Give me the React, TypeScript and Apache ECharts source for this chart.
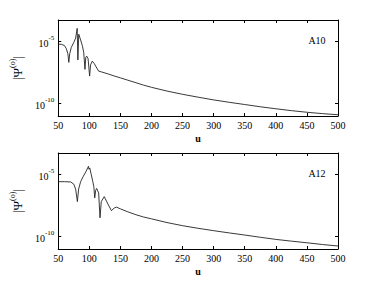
import React, { useEffect, useRef } from "react";
import * as echarts from "echarts";

// u values and log10 |Psi|
const U_A10 = [50, 55, 60, 63, 65.5, 67, 68.5, 71, 75, 78, 80.5, 81.6, 83, 86, 89, 91, 93, 94.3, 95.8, 98, 100.5, 102, 104.8, 108, 112, 115, 120, 131, 140, 150, 162, 175, 187, 200, 225, 250, 275, 300, 325, 350, 375, 400, 425, 450, 475, 500];
const LOG_A10 = [-5.24, -5.25, -5.35, -5.6, -6.0, -6.7, -6.0, -5.5, -5.1, -4.75, -3.97, -6.5, -4.44, -4.9, -5.4, -5.9, -7.26, -6.3, -6.2, -6.4, -7.8, -6.9, -6.6, -6.8, -7.15, -7.4, -7.47, -7.64, -7.79, -7.94, -8.13, -8.33, -8.52, -8.7, -9.0, -9.26, -9.49, -9.71, -9.9, -10.08, -10.26, -10.42, -10.57, -10.7, -10.81, -10.9];

const U_A12 = [50, 60, 70, 75, 78, 80.8, 82.8, 86, 90, 95, 98.6, 99.5, 100.7, 103, 105.6, 107.3, 108.7, 110.2, 111.8, 115, 117.2, 119.2, 124, 130, 135.5, 140, 143.6, 150, 162, 175, 187, 200, 225, 250, 275, 300, 325, 350, 375, 400, 425, 450, 475, 500];
const LOG_A12 = [-5.6, -5.6, -5.62, -5.8, -6.2, -7.2, -6.2, -5.6, -5.2, -4.75, -4.37, -4.6, -4.5, -5.0, -5.6, -6.0, -6.9, -6.3, -6.14, -6.5, -8.5, -7.2, -6.8, -7.4, -7.92, -7.72, -7.64, -7.78, -8.02, -8.25, -8.43, -8.58, -8.88, -9.13, -9.34, -9.53, -9.71, -9.88, -10.06, -10.23, -10.37, -10.5, -10.64, -10.76];

const X_TICKS = [50, 100, 150, 200, 250, 300, 350, 400, 450, 500];
const Y_TICKS = [-10, -5];
const PANEL_LABELS = ["A10", "A12"];

const FONT = "Liberation Serif";

export default function App() {
  const ref = useRef<HTMLDivElement>(null);
  useEffect(() => {
    document.body.style.margin = "0";
    const chart = echarts.init(ref.current!, null, { renderer: "svg" });
    const grids = [
      { left: 48, top: 20, width: 290, height: 96 },
      { left: 48, top: 153, width: 290, height: 96 },
    ];
    const rich = {
      b: { fontFamily: FONT, fontSize: 10, color: "#000", lineHeight: 14, verticalAlign: "bottom" },
      s: { fontFamily: FONT, fontSize: 7, color: "#000", verticalAlign: "top", lineHeight: 14, padding: [0, 0, 6, 0] },
    };
    const xAxes: any[] = [];
    const yAxes: any[] = [];
    grids.forEach((_, i) => {
      xAxes.push({
        type: "value", gridIndex: i, min: X_TICKS[0], max: X_TICKS[X_TICKS.length - 1], interval: 50,
        axisLine: { lineStyle: { color: "#000", width: 1 } },
        axisTick: { inside: true, length: 3, lineStyle: { color: "#000" } },
        axisLabel: { fontFamily: FONT, fontSize: 10, color: "#000", margin: 4 },
        splitLine: { show: false },
        name: "u", nameLocation: "middle", nameGap: 17,
        nameTextStyle: { fontFamily: FONT, fontSize: 10, fontWeight: "bold", color: "#000" },
      });
      xAxes.push({
        type: "value", gridIndex: i, position: "top", min: X_TICKS[0], max: X_TICKS[X_TICKS.length - 1], interval: 50,
        axisLine: { lineStyle: { color: "#000", width: 1 } },
        axisTick: { inside: true, length: 3, lineStyle: { color: "#000" } },
        axisLabel: { show: false }, splitLine: { show: false },
      });
      yAxes.push({
        type: "value", gridIndex: i, min: -11, max: -3.3,
        axisLine: { show: true, lineStyle: { color: "#000", width: 1 } },
        axisTick: { show: true, inside: true, length: 3, customValues: Y_TICKS, lineStyle: { color: "#000" } },
        axisLabel: {
          customValues: Y_TICKS, margin: 4,
          formatter: (v: number) => `{b|10}{s|${v}}`, rich,
        },
        splitLine: { show: false },
        name: "{n||Ψ}{s|(o)}{n||}", nameLocation: "middle", nameGap: 31, nameRotate: 90,
        nameTextStyle: {
          rich: {
            n: { fontFamily: FONT, fontSize: 13, color: "#000", lineHeight: 16, verticalAlign: "bottom" },
            s: { fontFamily: FONT, fontSize: 8, color: "#000", lineHeight: 16, verticalAlign: "top" },
          },
        },
      });
      yAxes.push({
        type: "value", gridIndex: i, position: "right", min: -11, max: -3.3,
        axisLine: { show: true, lineStyle: { color: "#000", width: 1 } },
        axisTick: { show: true, inside: true, length: 3, customValues: Y_TICKS, lineStyle: { color: "#000" } },
        axisLabel: { show: false }, splitLine: { show: false },
      });
    });
    const series = [
      { u: U_A10, v: LOG_A10 },
      { u: U_A12, v: LOG_A12 },
    ].map((d, i) => ({
      type: "line", xAxisIndex: i * 2, yAxisIndex: i * 2, showSymbol: false,
      data: d.u.map((u, k) => [u, d.v[k]]),
      lineStyle: { color: "#222", width: 0.9 }, silent: true,
    }));
    chart.setOption({
      animation: false,
      grid: grids,
      xAxis: xAxes,
      yAxis: yAxes,
      series,
      graphic: PANEL_LABELS.map((t, i) => ({
        type: "text", x: 317, y: grids[i].top + 20,
        style: { text: t, fontFamily: FONT, fontSize: 10, fill: "#000", align: "center", verticalAlign: "middle" },
      })),
    });
    return () => chart.dispose();
  }, []);
  return <div ref={ref} style={{ width: 374, height: 281 }} />;
}
